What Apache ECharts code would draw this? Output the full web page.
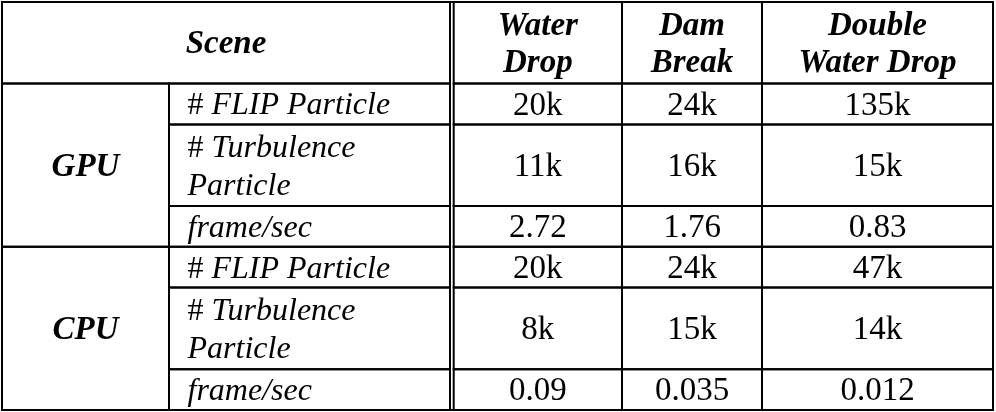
<!DOCTYPE html>
<html>
<head>
<meta charset="utf-8">
<script src="https://cdn.jsdelivr.net/npm/echarts@6/dist/echarts.min.js"></script>
<style>
html, body { margin: 0; padding: 0; background: #fff; }
#main { width: 996px; height: 412px; }
</style>
</head>
<body>
<div id="main"></div>
<script>
// table content
const scenes = ['Water\nDrop', 'Dam\nBreak', 'Double\nWater Drop'];
const devices = ['GPU', 'CPU'];
const metrics = ['# FLIP Particle', '# Turbulence\nParticle', 'frame/sec'];
// particle counts are in thousands
const gpuFlip = [20, 24, 135];
const gpuTurbulence = [11, 16, 15];
const gpuFps = [2.72, 1.76, 0.83];
const cpuFlip = [20, 24, 47];
const cpuTurbulence = [8, 15, 14];
const cpuFps = [0.09, 0.035, 0.012];

const deviceRows = [
  [gpuFlip, gpuTurbulence, gpuFps],
  [cpuFlip, cpuTurbulence, cpuFps]
];
const formatters = [v => v + 'k', v => v + 'k', v => String(v)];

// layout (x in px units of the grid, y in row units)
const sceneEdges = [0, 167, 448];
const valueEdges = [451.7, 620, 760, 991];
const headerSpan = 2;
const metricSpan = [1, 2, 1];
const fontFamily = '"Liberation Serif", "Times New Roman", serif';

function labelText(m) {
  return m.split('\n').map(line =>
    line.indexOf('# ') === 0 ? '{h|#} {t|' + line.slice(2) + '}' : '{t|' + line + '}'
  ).join('\n');
}

const cells = [];
cells.push({ rect: [sceneEdges[0], sceneEdges[2], 0, headerSpan], text: 'Scene', kind: 'head' });
scenes.forEach((s, i) => {
  cells.push({ rect: [valueEdges[i], valueEdges[i + 1], 0, headerSpan], text: s, kind: 'head' });
});
let rowY = headerSpan;
const groupSpan = metricSpan.reduce((a, b) => a + b, 0);
devices.forEach((d, di) => {
  cells.push({ rect: [sceneEdges[0], sceneEdges[1], rowY, rowY + groupSpan], text: d, kind: 'head' });
  metrics.forEach((m, mi) => {
    const y1 = rowY + metricSpan[mi];
    cells.push({ rect: [sceneEdges[1], sceneEdges[2], rowY, y1], text: labelText(m), kind: 'label' });
    deviceRows[di][mi].forEach((v, ci) => {
      cells.push({ rect: [valueEdges[ci], valueEdges[ci + 1], rowY, y1], text: formatters[mi](v), kind: 'value' });
    });
    rowY = y1;
  });
});

function cellRect(api) {
  const p0 = api.coord([api.value(0), api.value(2)]);
  const p1 = api.coord([api.value(1), api.value(3)]);
  return { x: p0[0], y: p0[1], width: p1[0] - p0[0], height: p1[1] - p0[1] };
}

const chart = echarts.init(document.getElementById('main'));
chart.setOption({
  animation: false,
  backgroundColor: '#fff',
  grid: { left: 2, right: 3, top: 2, bottom: 2 },
  xAxis: { type: 'value', min: 0, max: valueEdges[valueEdges.length - 1], show: false },
  yAxis: { type: 'value', min: 0, max: rowY, inverse: true, show: false },
  series: [
    {
      type: 'custom',
      silent: true,
      coordinateSystem: 'cartesian2d',
      encode: { x: [0, 1], y: [2, 3] },
      data: cells.map(c => c.rect),
      renderItem: function (params, api) {
        const c = cells[params.dataIndex];
        const bold = c.kind === 'head';
        const size = c.kind === 'label' ? 32 : 33;
        const textStyle = {
          text: c.text,
          fill: '#000',
          fontFamily: fontFamily,
          fontSize: size,
          fontStyle: c.kind === 'value' ? 'normal' : 'italic',
          fontWeight: bold ? 'bold' : 'normal',
          lineHeight: 37,
          textBorderColor: '#000',
          textBorderWidth: bold ? 0.8 : 0.4,
          align: c.kind === 'label' ? 'left' : 'center'
        };
        if (c.kind === 'label') {
          textStyle.rich = {
            h: { fontFamily: fontFamily, fontSize: size, fontStyle: 'normal', lineHeight: 38,
                 textBorderColor: '#000', textBorderWidth: 0.4 },
            t: { fontFamily: fontFamily, fontSize: size, fontStyle: 'italic', lineHeight: 38,
                 textBorderColor: '#000', textBorderWidth: 0.4 }
          };
        }
        return {
          type: 'rect',
          shape: cellRect(api),
          style: { fill: 'none', stroke: '#000', lineWidth: 2 },
          textContent: { style: textStyle },
          textConfig: {
            position: c.kind === 'label' ? 'insideLeft' : 'inside',
            distance: 21,
            offset: [0, 2]
          }
        };
      }
    },
    {
      type: 'custom',
      silent: true,
      coordinateSystem: 'cartesian2d',
      encode: { x: [0, 1], y: [2, 3] },
      data: [[0, valueEdges[valueEdges.length - 1], 0, rowY]],
      renderItem: function (params, api) {
        return {
          type: 'rect',
          shape: cellRect(api),
          style: { fill: 'none', stroke: '#000', lineWidth: 2 }
        };
      }
    }
  ]
});
</script>
</body>
</html>
